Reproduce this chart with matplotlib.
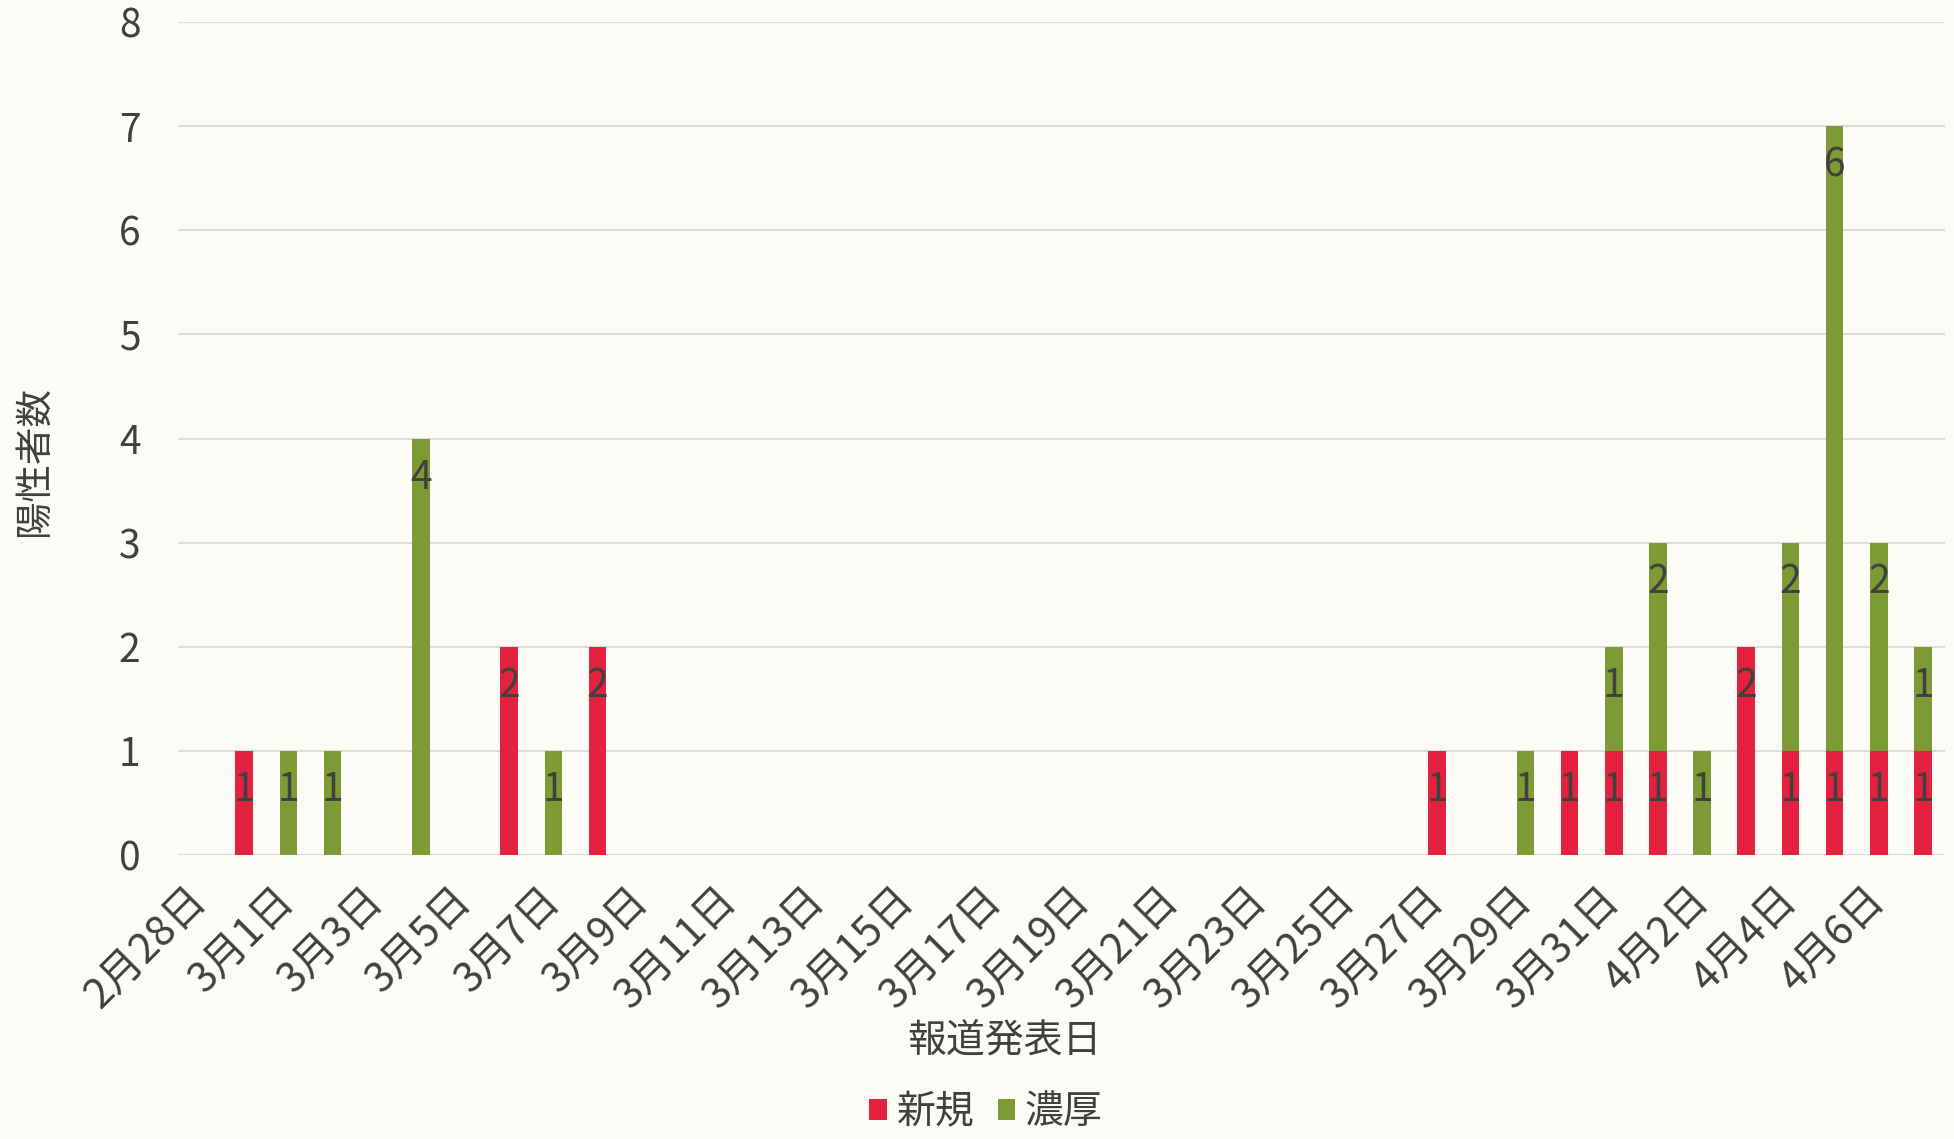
import matplotlib
matplotlib.use("Agg")
import matplotlib.pyplot as plt
from matplotlib.patches import Patch
import numpy as np

plt.rcParams['font.family'] = ['Noto Sans CJK JP', 'DejaVu Sans']

# 報道発表日 (2020/2/28 - 4/7)
dates = ["2月28日", "2月29日"] + [f"3月{d}日" for d in range(1, 32)] + [f"4月{d}日" for d in range(1, 8)]

# 新規
shinki = [0, 1, 0, 0, 0, 0, 0, 2, 0, 2,
          0, 0, 0, 0, 0, 0, 0, 0, 0, 0,
          0, 0, 0, 0, 0, 0, 0, 0, 1, 0,
          0, 1, 1, 1, 0, 2, 1, 1, 1, 1]
# 濃厚
noukou = [0, 0, 1, 1, 0, 4, 0, 0, 1, 0,
          0, 0, 0, 0, 0, 0, 0, 0, 0, 0,
          0, 0, 0, 0, 0, 0, 0, 0, 0, 0,
          1, 0, 1, 2, 1, 0, 2, 6, 2, 1]

series_names = ["新規", "濃厚"]
red = "#E4223F"
green = "#7C9B34"
bg = "#FCFBF5"
textc = "#404040"

fig = plt.figure(figsize=(19.54, 11.39), dpi=100, facecolor=bg)
ax = fig.add_axes([178 / 1954, 1 - 855 / 1139, (1945 - 178) / 1954, (855 - 22) / 1139])
ax.set_facecolor(bg)

x = np.arange(len(dates))
shinki = np.array(shinki)
noukou = np.array(noukou)

ax.bar(x, shinki, width=0.4, color=red, zorder=3)
ax.bar(x, noukou, width=0.4, bottom=shinki, color=green, zorder=3)

# ラベル (棒の内側上端)
for i in range(len(x)):
    if shinki[i] > 0:
        ax.text(x[i], shinki[i] - 0.38, str(shinki[i]), ha="center", va="center",
                fontsize=28, color=textc, zorder=4)
    if noukou[i] > 0:
        top = shinki[i] + noukou[i]
        ax.text(x[i], top - 0.38, str(noukou[i]), ha="center", va="center",
                fontsize=28, color=textc, zorder=4)

ax.set_xlim(-0.5, len(dates) - 0.5)
ax.set_ylim(0, 8)
ax.set_yticks(range(0, 9))
ax.yaxis.grid(True, color="#DCDCDC", linewidth=1.5, zorder=0)
ax.set_axisbelow(True)
for s in ax.spines.values():
    s.set_visible(False)

ax.set_xticks(x[::2])
ax.set_xticklabels(dates[::2], rotation=45, ha="right", va="center",
                   rotation_mode="anchor", fontsize=30, color=textc)
ax.tick_params(axis="x", length=0, pad=28)
ax.tick_params(axis="y", length=0, pad=27, labelsize=28, labelcolor=textc)

ax.set_xlabel("報道発表日", fontsize=28, color=textc, va="center")
ax.xaxis.set_label_coords(0.4675, -0.224)
ax.set_ylabel("陽性者数", fontsize=27, color=textc, va="center")
ax.yaxis.set_label_coords(-0.0815, 0.473)

handles = [Patch(facecolor=red), Patch(facecolor=green)]
fig.legend(handles, series_names, loc="center", bbox_to_anchor=(986 / 1954, 1 - 1112 / 1139),
           ncol=2, frameon=False, fontsize=28, labelcolor=textc,
           handlelength=0.45, handleheight=0.45, handletextpad=0.25, columnspacing=0.6)

fig.savefig("out.png", dpi=100, facecolor=bg)
